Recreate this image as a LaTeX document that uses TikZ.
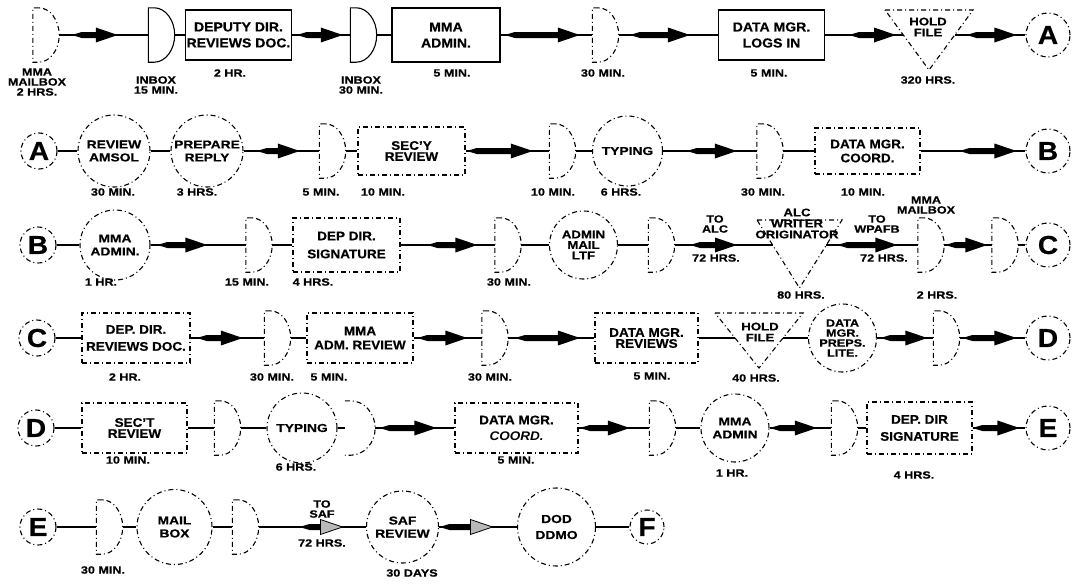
\documentclass[tikz,border=0pt]{standalone}
\usepackage{fontspec}
\setmainfont{Liberation Sans}[FakeStretch=1.08, BoldFeatures={FakeBold=0.5}]
\newfontfamily\lblfont{Liberation Sans}[FakeStretch=1.2, BoldFeatures={FakeBold=0.6}]
\usetikzlibrary{decorations.markings}

\tikzset{dd/.style = {line width=1.1pt, dash pattern=on 5pt off 3pt on 1pt off 3pt},
         ds/.style = {line width=1.1pt},
         wire/.style = {line width=1.5pt},
         delay/.style = {rectangle, inner sep=0pt, minimum width=26pt, minimum height=54pt},
         op/.style = {draw, dd, rectangle, inner sep=1pt, minimum width=106pt, minimum height=50pt,
                      align=center, font=\fontsize{12.5}{14}\selectfont\bfseries},
         oprow/.style = {op, solid, line width=1.2pt, font=\fontsize{13}{16}\selectfont\bfseries},
         act/.style = {draw, dd, circle, inner sep=0pt, minimum size=70pt, align=center,
                       font=\lblfont\fontsize{11.5}{13}\selectfont\bfseries},
         link/.style = {draw, dd, circle, inner sep=0pt, minimum size=#1,
                        font=\fontsize{26}{26}\selectfont\bfseries},
         link/.default = 36pt,
         lbl/.style = {inner sep=0pt, align=center, font=\lblfont\fontsize{10.5}{10}\selectfont\bfseries},
         tritxt/.style = {inner sep=0pt, align=center, font=\lblfont\fontsize{11}{11}\selectfont\bfseries}
        }

% fat arrow on a connector: tip position (from the end), body length
\tikzset{fat/.style 2 args = {postaction={decorate, decoration={markings, mark=at position #1 with
           {\fill (0,0) -- (-22,7.5) -- (-22,3) -- (-#2+10,3) -- (-#2,0)
                  -- (-#2+10,-3) -- (-22,-3) -- (-22,-7.5) -- cycle;}}}},
         fatg/.style 2 args = {postaction={decorate, decoration={markings, mark=at position #1 with
           {\fill (-22,3) -- (-#2+10,3) -- (-#2,0) -- (-#2+10,-3) -- (-22,-3) -- cycle;
            \filldraw[fill=gray!55, line width=0.8pt] (0,0) -- (-22,7.5) -- (-22,-7.5) -- cycle;}}}}
        }

% delay symbol: style, name, x, y
\newcommand{\dshape}[4][dd]{%
  \node[delay] (#2) at (#3,#4) {};
  \draw[#1] ([xshift=6pt]#2.north west) -- (#2.north west) -- (#2.south west) -- ([xshift=6pt]#2.south west)
      .. controls ([xshift=17pt]#2.south west) and ([yshift=-15pt]#2.east) .. (#2.east)
      .. controls ([yshift=15pt]#2.east) and ([xshift=17pt]#2.north west) .. ([xshift=6pt]#2.north west);
}

\begin{document}
\begin{tikzpicture}[x=1pt, y=-1pt]

\def\ya{35}  % row 1
\def\yb{151} % row 2
\def\yc{245} % row 3
\def\yd{338} % row 4
\def\ye{428} % row 5
\def\yf{527} % row 6

\useasboundingbox (0,0) rectangle (1076,584);

% row 1
\dshape{d11}{46}{\ya}
\node[lbl] (l11) at (37,82) {MMA\\MAILBOX\\2 HRS.};
\dshape[ds]{d12}{161.5}{\ya}
\node[lbl] (l12) at (156,85) {INBOX\\15 MIN.};
\node[oprow, minimum width=104pt] (b11) at (238.5,\ya) {DEPUTY DIR.\\REVIEWS DOC.};
\node[lbl] (l13) at (230,73) {2 HR.};
\dshape[ds]{d13}{363.5}{\ya}
\node[lbl] (l14) at (361,85) {INBOX\\30 MIN.};
\node[oprow, minimum width=108pt, minimum height=54pt] (b12) at (446,\ya) {MMA\\ADMIN.};
\node[lbl] (l15) at (452,73) {5 MIN.};
\dshape{d14}{605.5}{\ya}
\node[lbl] (l16) at (603,73) {30 MIN.};
\node[oprow] (b13) at (771.5,\ya) {DATA MGR.\\LOGS IN};
\node[lbl] (l17) at (769,73) {5 MIN.};
\draw[dd] (885,10) -- (973,10) -- (929,70) -- cycle;
\node[tritxt] (t11) at (928,27) {HOLD\\FILE};
\coordinate (t11w) at (903,\ya);
\coordinate (t11e) at (955,\ya);
\node[lbl] (l18) at (928,80) {320 HRS.};
\node[link=44pt] (outA) at (1048,\ya) {A};

\draw[wire, fat={-30.5pt}{46}] (d11) -- (d12);
\draw[wire] (d12) -- (b11);
\draw[wire, fat={-7.5pt}{46}] (b11) -- (d13);
\draw[wire] (d13) -- (b12);
\draw[wire, fat={-12.5pt}{75}] (b12) -- (d14);
\draw[wire, fat={-28pt}{60}] (d14) -- (b13);
\draw[wire, fat={-7pt}{47}] (b13) -- (t11w);
\draw[wire, fat={-9pt}{50}] (t11e) -- (outA);

% row 2
\node[link] (inA) at (39,\yb) {A};
\node[act, minimum size=72pt] (c21) at (114,\yb) {REVIEW\\AMSOL};
\node[lbl] (l21) at (113,192) {30 MIN.};
\node[act, minimum size=72pt] (c22) at (207,\yb) {PREPARE\\REPLY};
\node[lbl] (l22) at (197,192) {3 HRS.};
\dshape{d21}{332.5}{\yb}
\node[lbl] (l23) at (321,192) {5 MIN.};
\node[op, minimum width=107pt, minimum height=48pt] (b21) at (411.5,\yb) {SEC'Y\\[-3pt]REVIEW};
\node[lbl] (l24) at (383,192) {10 MIN.};
\dshape{d22}{562.5}{\yb}
\node[lbl] (l25) at (553,192) {10 MIN.};
\node[act] (c23) at (627.5,\yb) {TYPING};
\node[lbl] (l26) at (621,192) {6 HRS.};
\dshape{d23}{770}{\yb}
\node[lbl] (l27) at (763,192) {30 MIN.};
\node[op, minimum width=105pt, minimum height=46pt] (b22) at (867.5,\yb) {DATA MGR.\\COORD.};
\node[lbl] (l28) at (863,192) {10 MIN.};
\node[link=44pt] (outB) at (1048,\yb) {B};

\draw[wire] (inA) -- (c21);
\draw[wire] (c21) -- (c22);
\draw[wire, fat={-19.5pt}{43}] (c22) -- (d21);
\draw[wire] (d21) -- (b21);
\draw[wire, fat={-16.5pt}{66}] (b21) -- (d22);
\draw[wire] (d22) -- (c23);
\draw[wire, fat={-20pt}{50}] (c23) -- (d23);
\draw[wire] (d23) -- (b22);
\draw[wire, fat={-9pt}{57}] (b22) -- (outB);

% row 3
\node[link] (inB) at (38,\yc) {B};
\node[act] (c31) at (115,\yc) {MMA\\ADMIN.};
\node[lbl] (l31) at (101,282) {1 HR.};
\dshape{d31}{259}{\yc}
\node[lbl] (l32) at (247,282) {15 MIN.};
\node[op, minimum width=107pt, minimum height=54pt] (b31) at (346.5,\yc) {DEP DIR.\\[4pt]SIGNATURE};
\node[lbl] (l33) at (313,282) {4 HRS.};
\dshape{d32}{508}{\yc}
\node[lbl] (l34) at (509,282) {30 MIN.};
\node[act, minimum size=68pt, font=\lblfont\fontsize{11}{10.5}\selectfont\bfseries] (c32) at (583.5,\yc) {ADMIN\\MAIL\\LTF};
\dshape{d33}{661.5}{\yc}
\node[lbl] (l35) at (715,224) {TO\\ALC};
\node[lbl] (l36) at (716,258) {72 HRS.};
\draw[dd] (757,220) -- (842,220) -- (799.5,288) -- cycle;
\node[tritxt] (t31) at (797,223.5) {ALC\\WRITER\\ORIGINATOR};
\coordinate (t31w) at (772.6,\yc);
\coordinate (t31e) at (826.4,\yc);
\node[lbl] (l37) at (801,295) {80 HRS.};
\node[lbl] (l38) at (877,224) {TO\\WPAFB};
\node[lbl] (l39) at (884,258) {72 HRS.};
\dshape{d34}{931}{\yc}
\node[lbl] (l3a) at (926,205) {MMA\\MAILBOX};
\node[lbl] (l3b) at (937,295) {2 HRS.};
\dshape{d35}{1005}{\yc}
\node[link=44pt] (outC) at (1048,\yc) {C};

\draw[wire] (inB) -- (c31);
\draw[wire, fat={-38.5pt}{50}] (c31) -- (d31);
\draw[wire] (d31) -- (b31);
\draw[wire, fat={-17.5pt}{50}] (b31) -- (d32);
\draw[wire] (d32) -- (c32);
\draw[wire] (c32) -- (d33);
\draw[wire, fat={-35.6pt}{47}] (d33) -- (t31w);
\draw[wire, fat={-20.5pt}{60}] (t31e) -- (d34);
\draw[wire, fat={-4.5pt}{42}] (d34) -- (d35);
\draw[wire] (d35) -- (outC);

% row 4
\node[link] (inC) at (37,\yd) {C};
\node[op, minimum width=108pt] (b41) at (136,\yd) {DEP. DIR.\\[3pt]REVIEWS DOC.};
\node[lbl] (l41) at (125,377) {2 HR.};
\dshape{d41}{277.5}{\yd}
\node[lbl] (l42) at (272,377) {30 MIN.};
\node[op] (b42) at (360,\yd) {MMA\\ADM. REVIEW};
\node[lbl] (l43) at (329,377) {5 MIN.};
\dshape{d42}{495}{\yd}
\node[lbl] (l44) at (490,377) {30 MIN.};
\node[op, minimum width=103pt] (b43) at (646.5,\yd) {DATA MGR.\\[-3pt]REVIEWS};
\node[lbl] (l45) at (652,376) {5 MIN.};
\draw[dd] (715,313) -- (803,313) -- (759,368) -- cycle;
\node[tritxt] (t41) at (760,332) {HOLD\\FILE};
\coordinate (t41w) at (735,\yd);
\coordinate (t41e) at (783,\yd);
\node[lbl] (l46) at (756,378) {40 HRS.};
\node[act, minimum size=68pt, font=\lblfont\fontsize{10.5}{10}\selectfont\bfseries] (c41) at (842.5,\yd) {DATA\\MGR.\\PREPS.\\LITE.};
\dshape{d43}{946.5}{\yd}
\node[link=44pt] (outD) at (1048,\yd) {D};

\draw[wire] (inC) -- (b41);
\draw[wire, fat={-21.5pt}{46}] (b41) -- (d41);
\draw[wire] (d41) -- (b42);
\draw[wire, fat={-14.5pt}{50}] (b42) -- (d42);
\draw[wire, fat={-14.5pt}{65}] (d42) -- (b43);
\draw[wire] (b43) -- (t41w);
\draw[wire] (t41e) -- (c41);
\draw[wire, fat={-6pt}{47}] (c41) -- (d43);
\draw[wire, fat={-9pt}{54}] (d43) -- (outD);

% row 5
\node[link] (inD) at (36,\ye) {D};
\node[op, minimum width=105pt] (b51) at (134.5,\ye) {SEC'T\\[-3pt]REVIEW};
\node[lbl] (l51) at (128,460) {10 MIN.};
\dshape{d51}{227.5}{\ye}
\node[act] (c51) at (302,\ye) {TYPING};
\node[lbl] (l52) at (296,467) {6 HRS.};
\node[delay, minimum width=30pt] (d52) at (360,\ye) {};
\draw[dd] (d52.north west) -- ([xshift=6pt]d52.north west)
    .. controls ([xshift=19pt]d52.north west) and ([yshift=15pt]d52.east) .. (d52.east)
    .. controls ([yshift=-15pt]d52.east) and ([xshift=19pt]d52.south west) .. ([xshift=6pt]d52.south west)
    -- (d52.south west);
\node[op, minimum width=123pt] (b52) at (516.5,\ye) {DATA MGR.\\[2pt]{\itshape COORD.}};
\node[lbl] (l53) at (516,460) {5 MIN.};
\dshape{d53}{662.5}{\ye}
\node[act, minimum size=68pt] (c52) at (735,\ye) {MMA\\ADMIN};
\node[lbl] (l54) at (732,473) {1 HR.};
\dshape{d54}{844.5}{\ye}
\node[op, minimum width=105pt, minimum height=52pt] (b53) at (919.5,\ye) {DEP. DIR\\[3pt]SIGNATURE};
\node[lbl] (l55) at (914,475) {4 HRS.};
\node[link=44pt] (outE) at (1048,\ye) {E};

\draw[wire] (inD) -- (b51);
\draw[wire] (b51) -- (d51);
\draw[wire] (d51) -- (c51);
\draw[wire] (c51) -- (d52);
\draw[wire, fat={-18pt}{57}] (d52) -- (b52);
\draw[wire, fat={-19.5pt}{50}] (b52) -- (d53);
\draw[wire] (d53) -- (c52);
\draw[wire, fat={-14.5pt}{47}] (c52) -- (d54);
\draw[wire] (d54) -- (b53);
\draw[wire, fat={-6pt}{47}] (b53) -- (outE);

% row 6
\node[link] (inE) at (38,\yf) {E};
\dshape{d61}{109.5}{\yf}
\node[lbl] (l61) at (103,570) {30 MIN.};
\node[act, minimum size=75pt] (c61) at (174.5,\yf) {MAIL\\BOX};
\dshape{d62}{245.5}{\yf}
\node[lbl] (l62) at (322,509) {TO\\SAF};
\node[lbl] (l63) at (322,543) {72 HRS.};
\node[act, minimum size=72pt] (c62) at (402.5,\yf) {SAF\\REVIEW};
\node[lbl] (l64) at (412,573) {30 DAYS};
\node[act, minimum size=78pt] (c63) at (556.5,\yf) {DOD\\[3pt]DDMO};
\node[link=34pt] (inF) at (647,\yf) {F};

\draw[wire] (inE) -- (d61);
\draw[wire] (d61) -- (c61);
\draw[wire] (c61) -- (d62);
\draw[wire, fatg={-23.5pt}{43}] (d62) -- (c62);
\draw[wire, fatg={-24.5pt}{53}] (c62) -- (c63);
\draw[wire] (c63) -- (inF);

\end{tikzpicture}
\end{document}
